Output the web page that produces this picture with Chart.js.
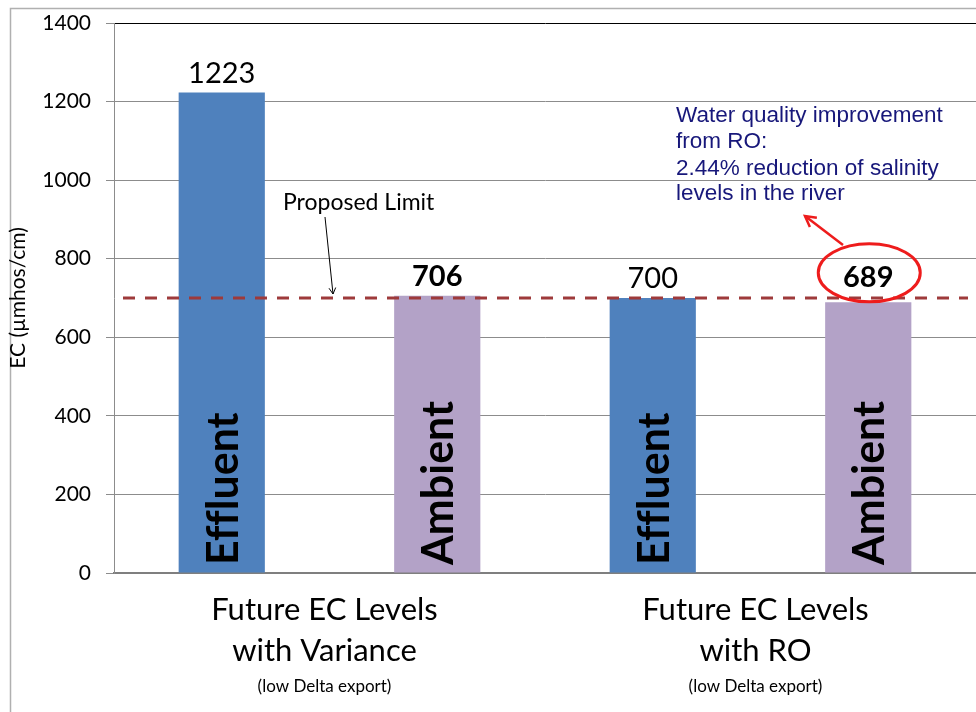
<!DOCTYPE html>
<html>
<head>
<meta charset="utf-8">
<script src="https://cdn.jsdelivr.net/npm/chart.js@4/dist/chart.umd.min.js"></script>
<style>
  html, body { margin: 0; padding: 0; background: #fff; overflow: hidden; }
  #wrap { position: relative; width: 976px; height: 712px; }
  canvas { display: block; }
</style>
</head>
<body>
<div id="wrap"><canvas id="ec" width="976" height="712"></canvas></div>
<script>
// Scenario groups (two bars each)
const groupLines = [
  ['Future EC Levels', 'with Variance', '(low Delta export)'],
  ['Future EC Levels', 'with RO', '(low Delta export)']
];
// Bars: source type and electrical conductivity (µmhos/cm)
const barNames = ['Effluent', 'Ambient', 'Effluent', 'Ambient'];
const ecValues = [1223, 706, 700, 689];
// Regulatory limit drawn as a dashed line
const proposedLimit = 700;
const limitLabel = 'Proposed Limit';
// Call-out text
const noteLines = [
  'Water quality improvement',
  'from RO:',
  '2.44% reduction of salinity',
  'levels in the river'
];
// Y axis
const yMin = 0, yMax = 1400, yStep = 200;
const yTitle = 'EC (\u00b5mhos/cm)';

const BLUE = '#4F81BD';
const LILAC = '#B3A2C7';
const barColors = barNames.map(n => n === 'Effluent' ? BLUE : LILAC);
const FONT = 'Lato, "Open Sans", sans-serif';

// label styling per bar: bold for the ambient results, extra lift for the circled one
const labelStyle = [
  { bold: false, lift: 10 },
  { bold: true, lift: 10 },
  { bold: false, lift: 10 },
  { bold: true, lift: 15 }
];

// keep "ff"/"fl" as separate letters
const noLigatures = s => s.replace(/f(?=[fil])/g, 'f\u200C');

const decorations = {
  id: 'decorations',
  beforeDraw(chart) {
    const ctx = chart.ctx;
    ctx.save();
    ctx.fillStyle = '#fff';
    ctx.fillRect(0, 0, chart.width, chart.height);
    // outer frame
    ctx.strokeStyle = '#b0b0b0';
    ctx.lineWidth = 1.5;
    ctx.beginPath();
    ctx.moveTo(10.5, chart.height);
    ctx.lineTo(10.5, 8.5);
    ctx.lineTo(chart.width, 8.5);
    ctx.stroke();
    ctx.restore();
  },
  afterDatasetsDraw(chart) {
    const ctx = chart.ctx;
    const x = chart.scales.x, y = chart.scales.y;
    const meta = chart.getDatasetMeta(0);
    ctx.save();

    // names written up the bars
    ctx.fillStyle = '#000';
    ctx.font = 'bold 43px ' + FONT;
    ctx.textAlign = 'left';
    ctx.textBaseline = 'middle';
    meta.data.forEach((bar, i) => {
      ctx.save();
      ctx.translate(bar.x + 2, y.getPixelForValue(0) - 8);
      ctx.rotate(-Math.PI / 2);
      ctx.fillText(noLigatures(barNames[i]), 0, 0);
      ctx.restore();
    });

    // value labels
    ctx.textAlign = 'center';
    ctx.textBaseline = 'alphabetic';
    const labelBase = [];
    meta.data.forEach((bar, i) => {
      const st = labelStyle[i];
      ctx.font = (st.bold ? 'bold ' : '') + '29px ' + FONT;
      const by = y.getPixelForValue(ecValues[i]) - st.lift;
      labelBase.push(by);
      ctx.fillText(String(ecValues[i]), bar.x, by);
    });

    // proposed limit line
    const ly = y.getPixelForValue(proposedLimit);
    ctx.strokeStyle = '#9E3A3B';
    ctx.lineWidth = 3;
    ctx.setLineDash([12, 10]);
    ctx.beginPath();
    ctx.moveTo(chart.chartArea.left + 9, ly);
    ctx.lineTo(chart.chartArea.right - 8, ly);
    ctx.stroke();
    ctx.setLineDash([]);

    // limit label with pointer
    ctx.font = '23px ' + FONT;
    ctx.textAlign = 'left';
    ctx.fillStyle = '#000';
    ctx.fillText(limitLabel, 283, 210);
    const ax0 = 325, ay0 = 217, ax1 = 333, ay1 = ly - 4;
    ctx.strokeStyle = '#000';
    ctx.lineWidth = 1;
    ctx.beginPath();
    ctx.moveTo(ax0, ay0);
    ctx.lineTo(ax1, ay1);
    ctx.stroke();
    const ang = Math.atan2(ay1 - ay0, ax1 - ax0);
    ctx.beginPath();
    ctx.moveTo(ax1 - 7 * Math.cos(ang - 0.5), ay1 - 7 * Math.sin(ang - 0.5));
    ctx.lineTo(ax1, ay1);
    ctx.lineTo(ax1 - 7 * Math.cos(ang + 0.5), ay1 - 7 * Math.sin(ang + 0.5));
    ctx.stroke();

    // call-out note
    ctx.fillStyle = '#17177A';
    ctx.font = '22.5px "Liberation Sans", Arial, sans-serif';
    const noteTop = [122, 148, 175, 200];
    noteLines.forEach((t, i) => ctx.fillText(t, 676, noteTop[i]));

    // ring round the last value and arrow to the note
    const last = meta.data[3];
    const cx = last.x + 1, cy = labelBase[3] - 14.5;
    ctx.strokeStyle = '#EE1C1C';
    ctx.lineWidth = 3;
    ctx.beginPath();
    ctx.ellipse(cx, cy, 51, 29, 0, 0, Math.PI * 2);
    ctx.stroke();
    const bx0 = 843, by0 = 245, bx1 = 805, by1 = 216;
    ctx.lineWidth = 2.5;
    ctx.beginPath();
    ctx.moveTo(bx0, by0);
    ctx.lineTo(bx1, by1);
    ctx.stroke();
    const bang = Math.atan2(by1 - by0, bx1 - bx0);
    ctx.beginPath();
    ctx.moveTo(bx1 - 12 * Math.cos(bang - 0.5), by1 - 12 * Math.sin(bang - 0.5));
    ctx.lineTo(bx1, by1);
    ctx.lineTo(bx1 - 12 * Math.cos(bang + 0.5), by1 - 12 * Math.sin(bang + 0.5));
    ctx.stroke();

    // group captions under the axis
    ctx.fillStyle = '#000';
    ctx.textAlign = 'center';
    groupLines.forEach((lines, g) => {
      const gx = (x.getPixelForValue(2 * g) + x.getPixelForValue(2 * g + 1)) / 2 - 5;
      ctx.font = '31px ' + FONT;
      ctx.fillText(lines[0], gx, 620);
      ctx.fillText(lines[1], gx, 661);
      ctx.font = '17px ' + FONT;
      ctx.fillText(lines[2], gx, 692);
    });
    ctx.restore();
  }
};

new Chart(document.getElementById('ec'), {
  type: 'bar',
  data: {
    labels: barNames.map((n, i) => n + ' ' + (i + 1)),
    datasets: [{
      data: ecValues,
      backgroundColor: barColors,
      borderWidth: 0,
      barPercentage: 0.4,
      categoryPercentage: 1.0
    }]
  },
  options: {
    responsive: false,
    animation: false,
    devicePixelRatio: 1,
    layout: { padding: { top: 23, left: 0, right: 0, bottom: 0 } },
    plugins: { legend: { display: false }, tooltip: { enabled: false } },
    scales: {
      x: {
        grid: { display: false },
        border: { display: true, color: '#7f7f7f', width: 2 },
        ticks: { display: false },
        afterFit(s) { s.height = 139; }
      },
      y: {
        min: yMin, max: yMax,
        ticks: {
          stepSize: yStep,
          color: '#000',
          font: { size: 21, family: FONT },
          padding: 15,
          callback: v => String(v)
        },
        grid: {
          color: c => c.tick && c.tick.value === yMax ? '#000' : '#8c8c8c',
          lineWidth: 1,
          tickLength: 8,
          tickColor: '#8c8c8c'
        },
        border: { color: '#8c8c8c', width: 1 },
        title: {
          display: true,
          text: yTitle,
          color: '#000',
          font: { size: 21, family: FONT },
          padding: { top: 6, bottom: 0 }
        },
        afterFit(s) {
          s.width = 114;
          s.paddingTop = 0;
          s.paddingBottom = 0;
        }
      }
    }
  },
  plugins: [decorations]
});
</script>
</body>
</html>
